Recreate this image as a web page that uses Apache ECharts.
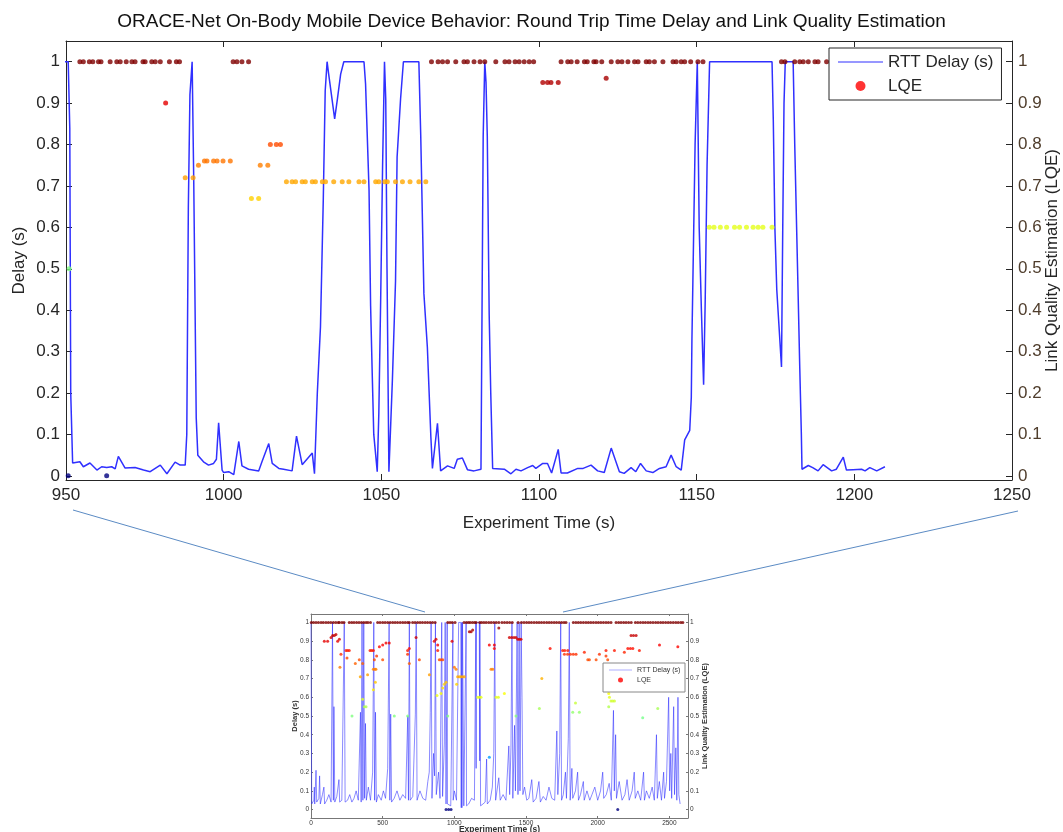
<!DOCTYPE html>
<html>
<head>
<meta charset="utf-8">
<script src="https://cdn.jsdelivr.net/npm/echarts@6/dist/echarts.min.js"></script>
<style>
  html, body { margin: 0; padding: 0; background: #fff; }
  #main { width: 1063px; height: 832px; }
</style>
</head>
<body>
<div id="main"></div>
<script>
// ---- zoomed window 950..1250 s : RTT delay, [time, delay] ----
var rttMain = [
  [949.5, 1.0], [950.7, 1.0], [951.2, 0.84], [951.5, 0.2], [952.1, 0.031], [954.4, 0.034], [955.5, 0.022],
  [957.6, 0.031], [959.8, 0.014], [961.3, 0.022], [962.9, 0.02], [964.5, 0.022], [965.6, 0.017], [966.6, 0.047],
  [968.7, 0.019], [971.9, 0.02], [974.6, 0.014], [976.7, 0.01], [979.9, 0.026], [982, 0.005], [984.6, 0.033],
  [986.2, 0.026], [987.8, 0.026], [988.3, 0.1], [988.8, 0.65], [989.3, 0.92], [990.0, 1.0], [990.5, 0.72],
  [991.3, 0.14], [991.8, 0.05], [993.6, 0.034], [995.2, 0.026], [996.8, 0.03], [997.7, 0.04], [998.4, 0.128],
  [999.5, 0.014], [1000, 0.008], [1001.6, 0.01], [1003.2, 0.003], [1004.8, 0.083], [1005.8, 0.024],
  [1007.9, 0.016], [1011.1, 0.012], [1012.2, 0.035], [1014.3, 0.078], [1015.4, 0.03], [1017.5, 0.018],
  [1019, 0.016], [1021.7, 0.012], [1023.1, 0.096], [1024.9, 0.027], [1028.1, 0.055], [1028.8, 0.005],
  [1029.7, 0.2], [1030.7, 0.36], [1031.6, 0.67], [1032.2, 0.93], [1032.8, 1.0], [1033.3, 0.97], [1035.2, 0.862],
  [1036, 0.906], [1037.1, 0.97], [1038.1, 1.0], [1044.5, 1.0], [1045, 0.946], [1045.5, 0.83], [1046.1, 0.69],
  [1046.6, 0.41], [1047.1, 0.25], [1047.6, 0.1], [1048.7, 0.01], [1049.2, 0.15], [1049.8, 0.43], [1050.4, 0.75],
  [1051, 1.0], [1051.4, 0.91], [1051.8, 0.5], [1052.4, 0.01], [1053.5, 0.23], [1054.5, 0.47], [1055, 0.77],
  [1056.1, 0.91], [1057, 1.0], [1061.9, 1.0], [1062.5, 0.82], [1063.5, 0.44], [1064.6, 0.31], [1065.7, 0.095],
  [1066.2, 0.018], [1067.8, 0.127], [1068.8, 0.012], [1071, 0.024], [1073.1, 0.018], [1074.1, 0.04],
  [1075.7, 0.043], [1077.3, 0.015], [1079.4, 0.012], [1081.6, 0.016], [1082.3, 0.82], [1082.8, 1.0],
  [1083.2, 0.95], [1083.6, 0.82], [1084.2, 0.39], [1084.7, 0.2], [1085.3, 0.018], [1089, 0.016], [1091.1, 0.005],
  [1092.7, 0.016], [1094.3, 0.012], [1096.4, 0.02], [1098, 0.025], [1099, 0.018], [1101.2, 0.03], [1102.7, 0.03],
  [1104, 0.007], [1106.1, 0.064], [1107, 0.007], [1109, 0.007], [1112.3, 0.018], [1114, 0.018], [1116.5, 0.026],
  [1118.6, 0.012], [1120.7, 0.008], [1122.9, 0.067], [1125.5, 0.01], [1127, 0.006], [1129.2, 0.02],
  [1130.7, 0.01], [1132.2, 0.03], [1134, 0.012], [1136.1, 0.008], [1138.2, 0.018], [1140.3, 0.022],
  [1141.9, 0.05], [1143.5, 0.022], [1145.1, 0.014], [1146.2, 0.087], [1147.8, 0.11], [1148.3, 0.19],
  [1148.5, 0.33], [1148.8, 0.47], [1149.5, 0.8], [1150.2, 1.0], [1150.8, 0.6], [1151.5, 0.4], [1152.2, 0.22],
  [1152.7, 0.42], [1153.3, 0.75], [1154.1, 1.0], [1173.9, 1.0], [1174.3, 0.86], [1174.8, 0.6], [1175.4, 0.45],
  [1176.9, 0.263], [1177.3, 0.6], [1177.7, 0.9], [1178.1, 1.0], [1180.6, 1.0], [1181.1, 0.8], [1182.2, 0.43],
  [1182.7, 0.26], [1183.2, 0.1], [1183.4, 0.016], [1185.4, 0.025], [1186.8, 0.02], [1188.5, 0.012],
  [1190.1, 0.027], [1192.8, 0.012], [1194.3, 0.016], [1196.5, 0.045], [1197.5, 0.014], [1199.6, 0.015],
  [1202.3, 0.016], [1203.4, 0.012], [1204.9, 0.02], [1207.1, 0.012], [1209.7, 0.022]
];

// ---- zoomed window: LQE, grouped as [lqe value, [times]] ----
var lqeMain = [
  [1.0, [954.4, 955.5, 957.4, 958.5, 960.3, 961.1, 964, 966.1, 967.2, 969.1, 970.9, 971.9, 974.4, 975.1, 977.2,
         978.3, 979.9, 982.8, 985, 986, 1003, 1004.2, 1005.8, 1007.9, 1065.9, 1068, 1069.4, 1071, 1073.6,
         1076.2, 1077.3, 1079.4, 1081.3, 1082.8, 1086.3, 1089.2, 1090.5, 1092.4, 1093.7, 1095.3, 1096.9,
         1098.3, 1107, 1109.1, 1110.2, 1112.1, 1114.4, 1115.3, 1117.4, 1118.1, 1119.9, 1122.9, 1125, 1126.3,
         1128.2, 1130.3, 1131.4, 1134, 1135, 1136.6, 1139.3, 1142.5, 1143.5, 1145.1, 1146.2, 1148.1, 1150.4,
         1152, 1176.9, 1178, 1181.1, 1182.7, 1183.8, 1185.4, 1187.5, 1188.5, 1191.2]],
  [0.96, [1121.3]],
  [0.95, [1101.2, 1102.7, 1103.8, 1106.1]],
  [0.9, [981.6]],
  [0.8, [1014.8, 1016.7, 1018]],
  [0.76, [993.9, 994.7, 996.8, 997.9, 999.8, 1002.1]],
  [0.75, [992, 1011.6, 1014]],
  [0.72, [987.8, 990.3]],
  [0.71, [1019.9, 1021.7, 1022.8, 1024.9, 1025.9, 1028.1, 1029.1, 1031.3, 1032.3, 1034.9, 1037.6, 1039.7,
          1042.9, 1044.5, 1048.2, 1049.2, 1051.1, 1051.9, 1054.5, 1056.7, 1059.1, 1061.9, 1064.1]],
  [0.67, [1008.8, 1011.1]],
  [0.6, [1154, 1155.5, 1157.5, 1159.5, 1162, 1163.6, 1165.8, 1167.9, 1169.5, 1171, 1173.9]],
  [0.5, [951]],
  [0, [950.7, 962.9]]
];

// ---- full experiment (inset): RTT delay, [time, delay] ----
var rttFull = [
  [0, 1.0], [5, 0.03], [20, 0.05], [23, 0.12], [26, 0.03], [35, 0.21], [40, 0.04], [55, 0.06], [60, 0.18],
  [65, 0.03], [80, 0.08], [90, 0.12], [95, 0.03], [110, 0.05], [125, 0.08], [140, 0.04], [150, 1.0], [156, 0.05],
  [160, 0.55], [166, 0.04], [180, 0.07], [195, 0.16], [200, 0.04], [215, 0.05], [225, 0.06], [232, 1.0],
  [238, 0.04], [255, 0.05], [270, 0.08], [285, 0.04], [300, 0.06], [315, 0.1], [330, 0.05], [345, 0.52],
  [350, 0.04], [356, 1.0], [362, 0.05], [368, 1.0], [374, 0.06], [380, 0.46], [386, 0.05], [400, 0.12],
  [415, 0.05], [430, 0.2], [438, 1.0], [444, 0.05], [450, 0.52], [456, 0.04], [470, 0.08], [490, 0.05],
  [505, 0.1], [520, 0.06], [535, 0.22], [545, 1.0], [550, 0.05], [556, 0.51], [562, 0.04], [580, 0.06],
  [600, 0.1], [620, 0.05], [640, 0.08], [660, 0.06], [675, 0.5], [680, 0.05], [686, 1.0], [692, 0.05],
  [710, 0.07], [728, 0.51], [734, 1.0], [740, 0.05], [760, 0.1], [780, 0.06], [800, 0.05], [815, 0.15],
  [825, 0.2], [832, 0.52], [838, 1.0], [844, 0.06], [855, 0.3], [862, 0.18], [868, 1.0], [874, 0.08],
  [890, 0.2], [900, 0.06], [912, 1.0], [918, 0.07], [930, 0.35], [936, 1.0], [942, 0.03], [950, 1.0],
  [952, 0.03], [975, 0.02], [990, 1.0], [992, 0.05], [1000, 0.1], [1015, 0.05], [1030, 1.0], [1045, 1.0],
  [1048, 0.01], [1051, 1.0], [1053, 0.01], [1057, 1.0], [1062, 1.0], [1066, 0.02], [1082, 1.0], [1085, 0.02],
  [1100, 0.03], [1120, 0.06], [1140, 0.05], [1150, 1.0], [1152, 0.22], [1154, 1.0], [1174, 1.0], [1177, 0.26],
  [1178, 1.0], [1181, 1.0], [1183, 0.02], [1200, 0.03], [1215, 0.04], [1225, 0.27], [1230, 0.03], [1250, 0.05],
  [1265, 0.12], [1275, 0.3], [1282, 1.0], [1288, 0.05], [1300, 0.06], [1310, 0.17], [1320, 0.05], [1340, 0.08],
  [1360, 0.05], [1380, 0.34], [1386, 0.08], [1395, 0.33], [1402, 1.0], [1408, 0.06], [1420, 0.45], [1426, 0.1],
  [1438, 1.0], [1444, 0.08], [1452, 1.0], [1458, 0.1], [1466, 1.0], [1472, 0.6], [1478, 0.08], [1490, 0.12],
  [1505, 0.05], [1520, 0.06], [1540, 0.16], [1550, 0.04], [1570, 0.06], [1590, 0.15], [1600, 0.04],
  [1620, 0.07], [1640, 0.05], [1660, 0.12], [1680, 0.06], [1700, 0.05], [1715, 0.42], [1722, 0.08],
  [1735, 0.3], [1742, 1.0], [1748, 0.05], [1760, 0.08], [1775, 0.2], [1782, 0.06], [1795, 0.38], [1802, 1.0],
  [1808, 0.05], [1820, 0.22], [1826, 0.06], [1845, 0.1], [1860, 0.2], [1866, 0.05], [1880, 0.08], [1900, 0.15],
  [1906, 0.05], [1925, 0.1], [1945, 0.05], [1960, 0.08], [1980, 0.12], [2000, 0.05], [2020, 0.1], [2035, 0.2],
  [2042, 0.06], [2060, 0.08], [2080, 0.14], [2095, 0.05], [2110, 0.53], [2116, 0.1], [2125, 0.4], [2131, 0.06],
  [2150, 0.15], [2170, 0.05], [2190, 0.08], [2205, 0.16], [2220, 0.05], [2240, 0.1], [2255, 0.2], [2262, 0.06],
  [2280, 0.1], [2300, 0.05], [2320, 0.2], [2326, 0.05], [2340, 0.1], [2360, 0.06], [2380, 0.12], [2395, 0.05],
  [2410, 0.4], [2416, 0.06], [2430, 0.15], [2445, 0.05], [2460, 0.2], [2466, 0.06], [2480, 0.15], [2495, 0.6],
  [2502, 0.1], [2510, 0.3], [2516, 0.06], [2530, 0.55], [2536, 0.08], [2545, 0.33], [2552, 0.05], [2560, 0.6],
  [2566, 0.08], [2575, 0.03]
];

// ---- full experiment (inset): LQE samples at 1.0 (times) ----
var lqeFullTop = [
  2, 18, 35, 52, 70, 86, 104, 121, 138, 156, 173, 190, 198, 216, 230, 267, 284, 300, 318, 335, 352, 368, 384,
  397, 415, 465, 482, 500, 517, 535, 552, 570, 587, 604, 622, 640, 657, 674, 686, 709, 726, 744, 761, 778, 796,
  813, 831, 848, 866, 954, 970, 986, 1005, 1068, 1084, 1098, 1110, 1126, 1141, 1152, 1177, 1190, 1206, 1222,
  1240, 1257, 1275, 1292, 1310, 1332, 1350, 1368, 1386, 1404, 1445, 1468, 1486, 1504, 1521, 1538, 1556, 1574,
  1591, 1608, 1626, 1644, 1661, 1678, 1696, 1713, 1731, 1748, 1765, 1779, 1830, 1848, 1865, 1882, 1900, 1918,
  1935, 1952, 1970, 1988, 2005, 2022, 2040, 2058, 2075, 2093, 2128, 2146, 2163, 2181, 2198, 2216, 2234, 2263,
  2280, 2298, 2316, 2333, 2351, 2368, 2386, 2404, 2421, 2439, 2456, 2474, 2492, 2509, 2527, 2545, 2562, 2580,
  2594
];

// ---- full experiment (inset): other LQE samples, [time, lqe] ----
var lqeFullOther = [
  [93, 0.9], [116, 0.9], [140, 0.92], [151, 0.93], [163, 0.93], [174, 0.935], [186, 0.9], [198, 0.91],
  [209, 0.83], [202, 0.76], [244, 0.85], [255, 0.85], [267, 0.85], [251, 0.81], [286, 0.5], [309, 0.78],
  [337, 0.8], [344, 0.71], [360, 0.78], [360, 0.59], [372, 0.55], [384, 0.55], [395, 0.72], [412, 0.85],
  [423, 0.85], [435, 0.85], [442, 0.8], [458, 0.82], [435, 0.75], [446, 0.75], [453, 0.75], [449, 0.68],
  [435, 0.64], [477, 0.87], [500, 0.88], [523, 0.89], [546, 0.89], [500, 0.8], [581, 0.5], [674, 0.85],
  [674, 0.83], [686, 0.86], [686, 0.78], [674, 0.5], [733, 0.92], [756, 0.8], [826, 0.72], [860, 0.9],
  [872, 0.91], [884, 0.88], [884, 0.85], [895, 0.8], [907, 0.8], [919, 0.8], [879, 0.61], [907, 0.62],
  [919, 0.65], [930, 0.67], [942, 0.68], [954, 0.5], [984, 0.9], [1000, 0.76], [1012, 0.75], [1016, 0.67],
  [1023, 0.71], [1035, 0.71], [1047, 0.71], [1058, 0.71], [1070, 0.71], [1105, 0.95], [1117, 0.95],
  [1128, 0.96], [1163, 0.6], [1175, 0.6], [1186, 0.6], [1244, 0.28], [1244, 0.88], [1279, 0.88],
  [1279, 0.86], [1256, 0.75], [1268, 0.75], [1291, 0.6], [1307, 0.6], [1310, 0.97], [1349, 0.62],
  [1384, 0.92], [1400, 0.92], [1416, 0.92], [1430, 0.92], [1442, 0.91], [1454, 0.91], [1465, 0.91],
  [1430, 0.5], [1593, 0.54], [1610, 0.7], [1668, 0.86], [1756, 0.85], [1770, 0.85], [1791, 0.85],
  [1768, 0.83], [1790, 0.83], [1810, 0.83], [1830, 0.83], [1849, 0.83], [1845, 0.57], [1826, 0.52],
  [1872, 0.52], [1907, 0.84], [1931, 0.8], [1942, 0.8], [2012, 0.83], [1989, 0.8], [2058, 0.85],
  [2058, 0.82], [2070, 0.8], [2077, 0.62], [2082, 0.6], [2093, 0.58], [2105, 0.58], [2117, 0.58],
  [2077, 0.55], [2117, 0.85], [2186, 0.84], [2210, 0.86], [2228, 0.86], [2245, 0.86], [2233, 0.93],
  [2250, 0.93], [2268, 0.93], [2291, 0.85], [2314, 0.49], [2419, 0.54], [2431, 0.88], [2559, 0.87],
  [942, 0], [960, 0], [977, 0], [2140, 0]
];

var yTicks = [0, 0.1, 0.2, 0.3, 0.4, 0.5, 0.6, 0.7, 0.8, 0.9, 1];

// jet colour map (value 0..1)
var jet = ['#00007f', '#0000ff', '#007fff', '#00ffff', '#7fff7f', '#ffff00', '#ff7f00', '#ff0000', '#7f0000'];

var lqeMainPts = [];
lqeMain.forEach(function(g) {
    g[1].forEach(function(t) { lqeMainPts.push([t, g[0]]); });
});
var lqeFullPts = lqeFullTop.map(function(t) { return [t, 1.0]; }).concat(lqeFullOther);

var FONT = 'Arial, "Liberation Sans", sans-serif';
var AX = '#262626';
// thin bar used as the legend's line sample
var LINE_ICON = 'path://M0,0 L60,0 L60,1.6 L0,1.6 Z';

function xAx(grid, pos, min, max, interval, big, showLabel) {
    return {
        type: 'value', gridIndex: grid, position: pos, min: min, max: max, interval: interval,
        nameMoveOverlap: false,
        axisLine: { onZero: false, lineStyle: { color: big ? AX : '#777', width: 1 } },
        axisTick: { inside: true, length: big ? 6 : 2, lineStyle: { color: big ? AX : '#777' } },
        axisLabel: {
            show: showLabel, color: big ? AX : '#333', fontSize: big ? 17 : 6.5, fontFamily: FONT,
            margin: big ? 7 : 2, showMaxLabel: big, hideOverlap: false,
            formatter: function(v) { return String(v); }
        },
        splitLine: { show: false }
    };
}

function yAx(grid, pos, min, max, big, color, showLabel) {
    return {
        type: 'value', gridIndex: grid, position: pos, min: min, max: max,
        nameMoveOverlap: false,
        axisLine: { show: true, onZero: false, lineStyle: { color: big ? AX : '#777', width: 1 } },
        axisTick: { inside: true, length: big ? 6 : 2, customValues: yTicks, lineStyle: { color: big ? AX : '#777' } },
        axisLabel: {
            show: showLabel, customValues: yTicks, color: color, fontSize: big ? 17 : 6.5, fontFamily: FONT,
            margin: big ? 6 : 2,
            formatter: function(v) { return String(Math.round(v * 10) / 10); }
        },
        splitLine: { show: false }
    };
}

var myChart = echarts.init(document.getElementById('main'));

var option = {
    animation: false,
    backgroundColor: '#fff',
    title: {
        text: 'ORACE-Net On-Body Mobile Device Behavior: Round Trip Time Delay and Link Quality Estimation',
        left: 'center',
        top: 7,
        textStyle: { fontFamily: FONT, fontSize: 19, fontWeight: 'normal', color: '#111' }
    },
    grid: [
        { left: 66, top: 41, width: 946, height: 439, outerBoundsMode: 'none', containLabel: false },
        { left: 311, top: 614, width: 377, height: 204, outerBoundsMode: 'none', containLabel: false }
    ],
    xAxis: [
        Object.assign(xAx(0, 'bottom', 950, 1250, 50, true, true), {
            name: 'Experiment Time (s)', nameLocation: 'middle', nameGap: 35,
            nameTextStyle: { fontFamily: FONT, fontSize: 17, color: AX }
        }),
        xAx(0, 'top', 950, 1250, 50, true, false),
        Object.assign(xAx(1, 'bottom', 0, 2630, 500, false, true), {
            name: 'Experiment Time (s)', nameLocation: 'middle', nameGap: 7,
            nameTextStyle: { fontFamily: FONT, fontSize: 8.5, fontWeight: 'bold', color: '#333' }
        }),
        xAx(1, 'top', 0, 2630, 500, false, false)
    ],
    yAxis: [
        Object.assign(yAx(0, 'left', -0.01, 1.05, true, AX, true), {
            name: 'Delay (s)', nameLocation: 'middle', nameGap: 38,
            nameTextStyle: { fontFamily: FONT, fontSize: 17, color: AX }
        }),
        Object.assign(yAx(0, 'right', -0.01, 1.05, true, '#4f3d2c', true), {
            name: 'Link Quality Estimation (LQE)', nameLocation: 'middle', nameGap: 32,
            nameTextStyle: { fontFamily: FONT, fontSize: 17, color: AX }
        }),
        Object.assign(yAx(1, 'left', -0.045, 1.045, false, '#333', true), {
            name: 'Delay (s)', nameLocation: 'middle', nameGap: 12,
            nameTextStyle: { fontFamily: FONT, fontSize: 7.5, fontWeight: 'bold', color: '#333' }
        }),
        Object.assign(yAx(1, 'right', -0.045, 1.045, false, '#333', true), {
            name: 'Link Quality Estimation (LQE)', nameLocation: 'middle', nameGap: 13,
            nameTextStyle: { fontFamily: FONT, fontSize: 7.5, fontWeight: 'bold', color: '#333' }
        })
    ],
    visualMap: {
        type: 'continuous', show: false, min: 0, max: 1, dimension: 1, seriesIndex: [1, 3],
        inRange: { color: jet }
    },
    legend: [{
        orient: 'vertical', left: 829, top: 48,
        padding: [5, 8, 5, 9], itemGap: 6, itemWidth: 45, itemHeight: 10,
        backgroundColor: '#fff', borderColor: AX, borderWidth: 1, borderRadius: 0,
        textStyle: { fontFamily: FONT, fontSize: 17, color: AX, lineHeight: 18, width: 104 },
        z: 10,
        data: [
            { name: 'RTT Delay (s)', icon: LINE_ICON, itemStyle: { color: '#3030ff' } },
            { name: 'LQE', icon: 'circle', itemStyle: { color: '#ff0000' } }
        ]
    }, {
        orient: 'vertical', left: 603, top: 663,
        padding: [3, 4, 8, 6], itemGap: 2, itemWidth: 23, itemHeight: 5,
        backgroundColor: '#fff', borderColor: '#888', borderWidth: 1, borderRadius: 0,
        textStyle: { fontFamily: FONT, fontSize: 7, color: '#333', lineHeight: 8, width: 44 },
        z: 10,
        data: [
            { name: 'RTT Delay (s)', icon: LINE_ICON, itemStyle: { color: '#7a7aff' } },
            { name: 'LQE', icon: 'circle', itemStyle: { color: '#ff0000' } }
        ]
    }],
    graphic: [
        { type: 'line', shape: { x1: 73, y1: 510, x2: 425, y2: 612 }, style: { stroke: '#5b8bc4', lineWidth: 1 } },
        { type: 'line', shape: { x1: 1018, y1: 511, x2: 563, y2: 612 }, style: { stroke: '#5b8bc4', lineWidth: 1 } }
    ],
    series: [{
        name: 'RTT Delay (s)',
        type: 'line',
        xAxisIndex: 0, yAxisIndex: 0,
        symbol: 'none',
        clip: true,
        lineStyle: { color: '#3030ff', width: 1.5 },
        itemStyle: { color: '#3030ff' },
        z: 2,
        data: rttMain
    }, {
        name: 'LQE',
        type: 'scatter',
        xAxisIndex: 0, yAxisIndex: 1,
        symbol: 'circle', symbolSize: 5,
        itemStyle: { color: '#ff0000' },
        z: 3,
        data: lqeMainPts
    }, {
        name: 'RTT Delay (s)',
        type: 'line',
        xAxisIndex: 2, yAxisIndex: 2,
        symbol: 'none',
        clip: true,
        lineStyle: { color: '#2a2aff', width: 1, opacity: 0.55 },
        itemStyle: { color: '#7a7aff' },
        z: 2,
        data: rttFull
    }, {
        name: 'LQE',
        type: 'scatter',
        xAxisIndex: 2, yAxisIndex: 3,
        symbol: 'circle', symbolSize: 3,
        itemStyle: { color: '#ff0000' },
        z: 3,
        data: lqeFullPts
    }]
};

myChart.setOption(option);
</script>
</body>
</html>
